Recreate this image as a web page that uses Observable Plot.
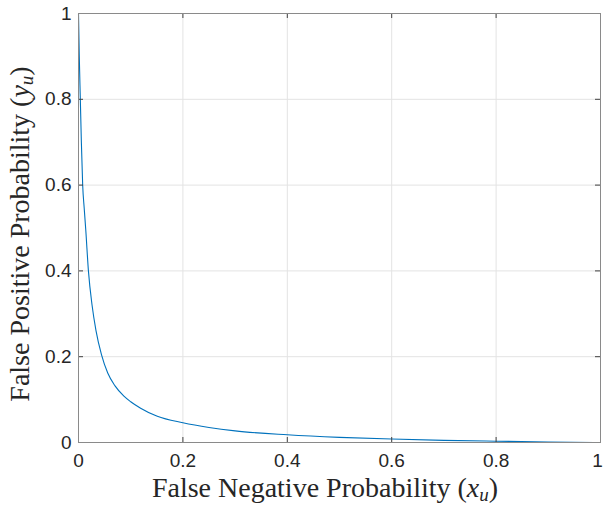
<!DOCTYPE html>
<html><head>
<meta charset="utf-8">
<script src="https://cdn.jsdelivr.net/npm/d3@7"></script>
<script src="https://cdn.jsdelivr.net/npm/@observablehq/plot@0.6"></script>
<style>body{margin:0;background:#fff;overflow:hidden}</style>
</head><body><div id="chart"></div>
<script>
// Curve
const falseNegative = [0, 0.0015, 0.0035, 0.0055, 0.008, 0.011, 0.014, 0.019, 0.026, 0.0335, 0.044, 0.056, 0.07, 0.087, 0.1, 0.119, 0.151, 0.2, 0.25, 0.3, 0.4, 0.5, 0.6, 0.7, 0.8, 0.9, 1.0];
const falsePositive = [1, 0.9, 0.8, 0.7, 0.6, 0.545, 0.494, 0.4, 0.32, 0.261, 0.205, 0.162, 0.132, 0.108, 0.095, 0.08, 0.061, 0.046, 0.035, 0.027, 0.018, 0.012, 0.008, 0.005, 0.003, 0.0013, 0];
const xTicks = [0, 0.2, 0.4, 0.6, 0.8, 1];
const yTicks = [0, 0.2, 0.4, 0.6, 0.8, 1];
const xTickLabels = ["0", "0.2", "0.4", "0.6", "0.8", "1"];
const yTickLabels = ["0", "0.2", "0.4", "0.6", "0.8", "1"];
const xLabelParts = ["False Negative Probability (", "x", "u", ")"];
const yLabelParts = ["False Positive Probability (", "y", "u", ")"];

const data = falseNegative.map((x, i) => ({x, y: falsePositive[i]}));
const W = 603, H = 506, mL = 78, mR = 3, mT = 13, mB = 64;
const innerW = W - mL - mR, innerH = H - mT - mB;
const tick = 5;
const lastX = xTicks.length - 1;

const plot = Plot.plot({
  width: W, height: H,
  marginLeft: mL, marginRight: mR, marginTop: mT, marginBottom: mB,
  x: {domain: [0, 1]},
  y: {domain: [0, 1]},
  style: {fontFamily: "'Liberation Sans', Arial, sans-serif", fontSize: "19px", color: "#262626", background: "#fff"},
  marks: [
    Plot.gridX(xTicks, {stroke: "#e3e3e3", strokeOpacity: 1}),
    Plot.gridY(yTicks, {stroke: "#e3e3e3", strokeOpacity: 1}),
    Plot.line(data, {x: "x", y: "y", stroke: "#0072BD", strokeWidth: 1.1, curve: "monotone-x"}),
    Plot.tickX(xTicks, {x: d => d, insetTop: innerH - tick, stroke: "#404040"}),
    Plot.tickX(xTicks, {x: d => d, insetBottom: innerH - tick, stroke: "#404040"}),
    Plot.tickY(yTicks, {y: d => d, insetRight: innerW - tick, stroke: "#404040"}),
    Plot.tickY(yTicks, {y: d => d, insetLeft: innerW - tick, stroke: "#404040"}),
    Plot.frame({stroke: "#8a8a8a", strokeWidth: 1}),
    Plot.axisX(xTicks.slice(0, lastX), {tickSize: 0, tickPadding: 11, label: null, tickFormat: (d, i) => xTickLabels[i], fontSize: 19, fill: "#262626"}),
    Plot.axisX([xTicks[lastX]], {tickSize: 0, tickPadding: 11, dx: -3, label: null, tickFormat: () => xTickLabels[lastX], fontSize: 19, fill: "#262626"}),
    Plot.axisY(yTicks, {tickSize: 0, tickPadding: 7, label: null, tickFormat: (d, i) => yTickLabels[i], fontSize: 19, fill: "#262626"})
  ]
});
document.getElementById("chart").appendChild(plot);

const svg = d3.select(plot);
function addLabel(parts, x, y, rotate) {
  const t = svg.append("text")
    .attr("text-anchor", "middle")
    .attr("font-family", "'Liberation Serif', 'Times New Roman', serif")
    .attr("font-size", 28)
    .attr("fill", "#262626")
    .attr("transform", `translate(${x},${y})` + (rotate ? " rotate(-90)" : ""));
  t.append("tspan").text(parts[0]);
  t.append("tspan").attr("font-style", "italic").text(parts[1]);
  t.append("tspan").attr("font-style", "italic").attr("font-size", 19).attr("dy", 4).text(parts[2]);
  t.append("tspan").attr("dy", -4).text(parts[3]);
}
addLabel(xLabelParts, 325, 497, false);
addLabel(yLabelParts, 29, 234, true);
</script>
</body></html>
